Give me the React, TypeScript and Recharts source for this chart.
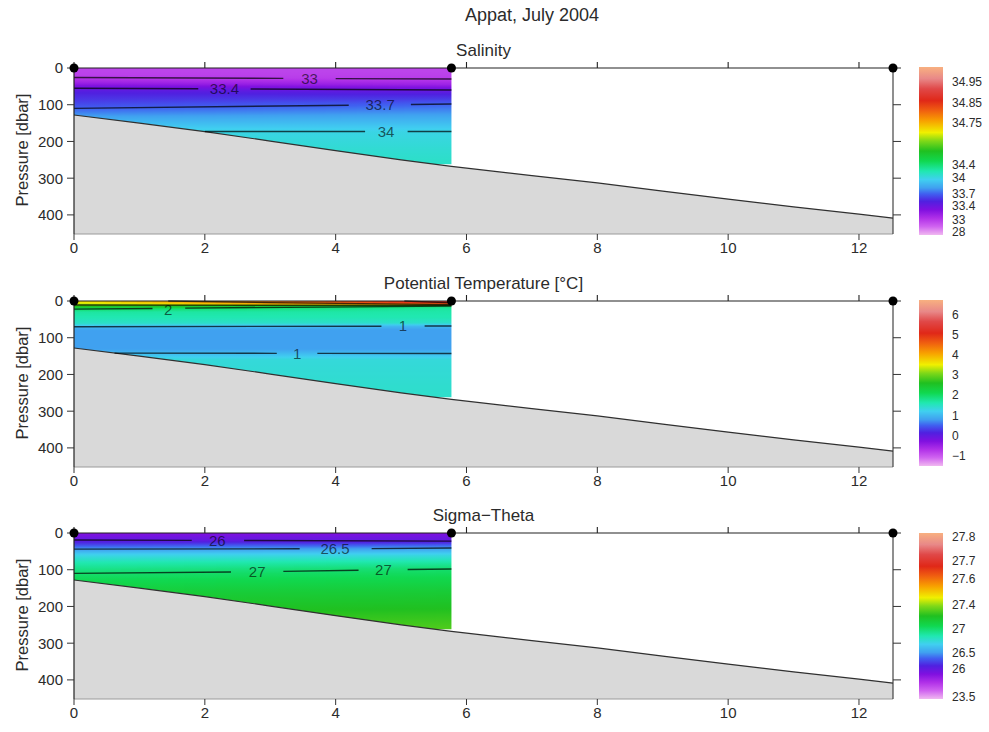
import React from 'react';
import {
  ComposedChart,
  Area,
  Line,
  Scatter,
  XAxis,
  YAxis,
  ReferenceDot,
  BarChart,
  Bar,
} from 'recharts';

const FONT = '"Liberation Sans", Arial, Helvetica, sans-serif';
const INK = '#2b2b2b';

// section geometry: distance along the track and pressure [dbar]
const X_MAX = 12.52;
const P_MAX = 452;
const FIELD_BOTTOM = 262;
const DIST_TICKS = [0, 2, 4, 6, 8, 10, 12];
const PRES_TICKS = [0, 100, 200, 300, 400];
const STATION_X = [0, 5.77, 12.52];
const CTD_X = [0, 5.77];

// bottom depth along the section
const BOTTOM_X = [0, 1, 2, 3, 4, 5, 5.77, 6.5, 7, 8, 9, 10, 11, 12, 12.52];
const BOTTOM_P = [128, 150, 173, 199, 225, 250, 268, 283, 293, 313, 335, 357, 378, 398, 409];

// rainbow palette used by all three colour bars (0 = bottom, 1 = top)
const RAINBOW_POS = [0, 0.05, 0.1, 0.15, 0.2, 0.245, 0.28, 0.33, 0.38, 0.44, 0.5, 0.56, 0.61, 0.68, 0.74, 0.8, 0.87, 0.93, 1];
const RAINBOW_HEX = [
  '#f0b8f0', '#d064f0', '#b030e8', '#8010e0', '#5020e0', '#4060f0', '#40a0f0', '#40d0f0', '#20e8b0',
  '#10d850', '#20c020', '#80d818', '#f0f000', '#f8a000', '#f06010', '#e02818', '#e04848', '#e88888', '#f8b080',
];

// salinity
const SAL_WEST_P = [0, 18, 26, 40, 55, 65, 90, 110, 140, 173, 220, 262];
const SAL_WEST_V = [32.3, 32.6, 33.0, 33.15, 33.4, 33.5, 33.6, 33.7, 33.86, 34.0, 34.07, 34.12];
const SAL_EAST_P = [0, 18, 30, 45, 60, 70, 85, 98, 140, 173, 220, 262];
const SAL_EAST_V = [32.3, 32.6, 33.0, 33.15, 33.4, 33.5, 33.6, 33.7, 33.87, 34.0, 34.07, 34.12];
const SAL_CB_VALUES = [28, 33, 33.4, 33.7, 34, 34.4, 34.75, 34.85, 34.95];
const SAL_CB_POS = [0.018, 0.089, 0.173, 0.244, 0.339, 0.417, 0.667, 0.786, 0.91];
const SAL_CB_LABELS = ['28', '33', '33.4', '33.7', '34', '34.4', '34.75', '34.85', '34.95'];

// potential temperature
const TEMP_WEST_P = [0, 5, 8, 11, 16, 22, 30, 45, 62, 70, 80, 130, 142, 160, 262];
const TEMP_WEST_V = [3.6, 3.5, 3.3, 3.0, 2.5, 2.0, 1.7, 1.6, 1.45, 1.0, 0.8, 0.8, 1.0, 1.35, 1.45];
const TEMP_EAST_P = [0, 5, 8, 10, 12, 14, 20, 30, 45, 60, 68, 78, 130, 142, 160, 262];
const TEMP_EAST_V = [5.3, 5.1, 4.6, 4.0, 3.0, 2.0, 1.7, 1.65, 1.6, 1.45, 1.0, 0.8, 0.8, 1.0, 1.35, 1.45];
const TEMP_CB_VALUES = [-1, 0, 1, 2, 3, 4, 5, 6];
const TEMP_CB_POS = [0.061, 0.183, 0.305, 0.427, 0.549, 0.671, 0.793, 0.909];
const TEMP_CB_LABELS = ['\u22121', '0', '1', '2', '3', '4', '5', '6'];

// sigma-theta
const SIG_WEST_P = [0, 8, 19, 30, 44, 60, 80, 110, 160, 220, 262];
const SIG_WEST_V = [25.5, 25.7, 26.0, 26.2, 26.5, 26.7, 26.85, 27.0, 27.12, 27.22, 27.28];
const SIG_EAST_P = [0, 8, 22, 30, 41, 60, 80, 98, 160, 220, 262];
const SIG_EAST_V = [25.55, 25.75, 26.0, 26.25, 26.5, 26.72, 26.88, 27.0, 27.14, 27.24, 27.3];
const SIG_CB_VALUES = [23.5, 26, 26.5, 27, 27.4, 27.6, 27.7, 27.8];
const SIG_CB_POS = [0.012, 0.181, 0.277, 0.422, 0.566, 0.723, 0.831, 0.976];
const SIG_CB_LABELS = ['23.5', '26', '26.5', '27', '27.4', '27.6', '27.7', '27.8'];

// contour lines: segments of [x, p] points, tags = label positions
type Contour = { level: string; segs: number[][][]; tags: number[][] };

const SAL_CONTOURS: Contour[] = [
  { level: '33', segs: [[[0, 26], [3.2, 28.2]], [[4.0, 28.8], [5.77, 30]]], tags: [[3.6, 28.5]] },
  { level: '33.4', segs: [[[0, 55], [1.9, 56.6]], [[2.7, 57.3], [5.77, 60]]], tags: [[2.3, 57]] },
  { level: '33.7', segs: [[[0, 110], [4.2, 101.3]], [[5.15, 99.3], [5.77, 98]]], tags: [[4.68, 100.3]] },
  { level: '34', segs: [[[2.0, 173], [4.45, 173]], [[5.1, 173], [5.77, 173]]], tags: [[4.77, 173]] },
];

const TEMP_CONTOURS: Contour[] = [
  { level: '5', segs: [[[5.05, 0], [5.77, 5]]], tags: [] },
  { level: '4', segs: [[[1.44, 0], [3, 4.5], [5.77, 10]]], tags: [] },
  { level: '3', segs: [[[0, 11], [5.77, 12]]], tags: [] },
  { level: '2', segs: [[[0, 22], [1.2, 20.3]], [[1.7, 19.3], [5.77, 14]]], tags: [[1.44, 24]] },
  { level: '1', segs: [[[0, 70], [4.7, 68.6]], [[5.36, 68.2], [5.77, 68]]], tags: [[5.03, 68.4]] },
  { level: '1', segs: [[[0.62, 142], [3.1, 142.5]], [[3.72, 142.6], [5.77, 143]]], tags: [[3.41, 143]] },
];

const SIG_CONTOURS: Contour[] = [
  { level: '26', segs: [[[0, 19], [1.8, 20]], [[2.6, 20.5], [5.77, 22]]], tags: [[2.19, 22]] },
  { level: '26.5', segs: [[[0, 44], [3.45, 43]], [[4.55, 42.5], [5.77, 41]]], tags: [[3.99, 42.7]] },
  {
    level: '27',
    segs: [[[0, 110], [2.4, 106]], [[3.2, 104.5], [4.35, 101.5]], [[5.1, 99.5], [5.77, 98]]],
    tags: [[2.8, 105.3], [4.73, 100.5]],
  },
];

const interp = (x: number, xs: number[], ys: number[], extrapolate = false) => {
  const n = xs.length;
  let i = 0;
  if (x <= xs[0]) {
    if (!extrapolate) return ys[0];
    i = 0;
  } else if (x >= xs[n - 1]) {
    if (!extrapolate) return ys[n - 1];
    i = n - 2;
  } else {
    while (i < n - 2 && x > xs[i + 1]) i++;
  }
  const f = (x - xs[i]) / (xs[i + 1] - xs[i]);
  return ys[i] + (ys[i + 1] - ys[i]) * f;
};

const rgb = (h: string) => [1, 3, 5].map((i) => parseInt(h.slice(i, i + 2), 16));

const rainbow = (t: number) => {
  const u = Math.min(1, Math.max(0, t));
  let i = 0;
  while (i < RAINBOW_POS.length - 2 && u > RAINBOW_POS[i + 1]) i++;
  const f = (u - RAINBOW_POS[i]) / (RAINBOW_POS[i + 1] - RAINBOW_POS[i]);
  const a = rgb(RAINBOW_HEX[i]);
  const b = rgb(RAINBOW_HEX[i + 1]);
  return `rgb(${a.map((c, k) => Math.round(c + (b[k] - c) * f)).join(',')})`;
};

type Field = {
  westP: number[];
  westV: number[];
  eastP: number[];
  eastV: number[];
  cbValues: number[];
  cbPos: number[];
};

const STRIPS = 24;

// the field between the two CTD stations, drawn as narrow columns with vertical gradients
const fieldStrips = (fd: Field) => {
  const x0 = CTD_X[0];
  const x1 = CTD_X[1];
  const out: { a: number; b: number; stops: { o: number; c: string }[] }[] = [];
  for (let i = 0; i < STRIPS; i++) {
    const f = (i + 0.5) / STRIPS;
    const stops: { o: number; c: string }[] = [];
    const levels: number[] = [];
    for (let p = 0; p < FIELD_BOTTOM; p += 3) levels.push(p);
    levels.push(FIELD_BOTTOM);
    levels.forEach((p) => {
      const v = (1 - f) * interp(p, fd.westP, fd.westV) + f * interp(p, fd.eastP, fd.eastV);
      const t = interp(v, fd.cbValues, fd.cbPos, true);
      stops.push({ o: p / FIELD_BOTTOM, c: rainbow(t) });
    });
    const a = x0 + ((x1 - x0) * i) / STRIPS;
    const b = x0 + ((x1 - x0) * (i + 1)) / STRIPS + (i < STRIPS - 1 ? 0.03 : 0);
    out.push({ a, b, stops });
  }
  return out;
};

const contourData = (c: Contour) => {
  const rows: { x: number; p: number | null }[] = [];
  c.segs.forEach((seg, k) => {
    if (k > 0) rows.push({ x: (seg[0][0] + rows[rows.length - 1].x) / 2, p: null });
    seg.forEach(([x, p]) => rows.push({ x, p }));
  });
  return rows;
};

const bottomData = BOTTOM_X.map((x, i) => ({ x, p: BOTTOM_P[i] }));
const stationData = STATION_X.map((x) => ({ x, p: 0 }));

const tickStyle = { fill: INK, fontSize: 15, fontFamily: FONT };
const noLabel = () => '';

type PanelProps = {
  id: string;
  plotTop: number;
  title: string;
  field: Field;
  contours: Contour[];
};

const Panel = ({ id, plotTop, title, field, contours }: PanelProps) => {
  const strips = fieldStrips(field);
  return (
    <>
      <div
        style={{
          position: 'absolute', left: 483.5, top: plotTop - 17, transform: 'translate(-50%, -50%)',
          fontFamily: FONT, fontSize: 17, color: INK, whiteSpace: 'nowrap',
        }}
      >
        {title}
      </div>
      <div
        style={{
          position: 'absolute', left: 22, top: plotTop + 82, transform: 'translate(-50%, -50%) rotate(-90deg)',
          fontFamily: FONT, fontSize: 16.5, color: INK, whiteSpace: 'nowrap',
        }}
      >
        Pressure [dbar]
      </div>
      <div style={{ position: 'absolute', left: 0, top: plotTop - 20 }}>
        <ComposedChart width={905} height={220} margin={{ top: 10, right: 2, bottom: 4, left: 34 }}>
          <defs>
            {strips.map((s, i) => (
              <linearGradient key={i} id={`${id}-s${i}`} x1="0" y1="0" x2="0" y2="1">
                {s.stops.map((st, k) => (
                  <stop key={k} offset={st.o} stopColor={st.c} />
                ))}
              </linearGradient>
            ))}
          </defs>
          <XAxis
            xAxisId="b" type="number" dataKey="x" domain={[0, X_MAX]} ticks={DIST_TICKS} interval={0}
            height={30} tickSize={6} tickMargin={2} axisLine={{ stroke: '#9a9a9a' }}
            tickLine={{ stroke: '#333' }} tick={tickStyle}
          />
          <XAxis
            xAxisId="t" orientation="top" type="number" dataKey="x" domain={[0, X_MAX]} ticks={DIST_TICKS}
            interval={0} height={10} tickSize={6} tickFormatter={noLabel}
            axisLine={{ stroke: '#222', strokeWidth: 1.2 }} tickLine={{ stroke: '#222', strokeWidth: 1.1 }}
          />
          <YAxis
            yAxisId="l" type="number" dataKey="p" domain={[0, P_MAX]} reversed ticks={PRES_TICKS} interval={0}
            width={40} tickSize={7} tickMargin={4} axisLine={{ stroke: '#222', strokeWidth: 1.2 }}
            tickLine={{ stroke: '#333' }} tick={tickStyle}
          />
          <YAxis
            yAxisId="r" orientation="right" type="number" dataKey="p" domain={[0, P_MAX]} reversed
            ticks={PRES_TICKS} interval={0} width={10} tickSize={8} tickFormatter={noLabel}
            axisLine={{ stroke: '#333', strokeWidth: 1.1 }} tickLine={{ stroke: '#333' }}
          />
          {strips.map((s, i) => (
            <Area
              key={`f${i}`} xAxisId="b" yAxisId="l" type="linear"
              data={[{ x: s.a, p: FIELD_BOTTOM }, { x: s.b, p: FIELD_BOTTOM }]}
              dataKey="p" baseValue={0} stroke="none" fill={`url(#${id}-s${i})`} fillOpacity={1}
              isAnimationActive={false}
            />
          ))}
          {contours.map((c, i) => (
            <Line
              key={`c${i}`} xAxisId="b" yAxisId="l" type="linear" data={contourData(c)} dataKey="p"
              stroke="rgba(0,0,0,0.7)" strokeWidth={1.4} dot={false} activeDot={false}
              connectNulls={false} isAnimationActive={false}
            />
          ))}
          <Area
            xAxisId="b" yAxisId="l" type="linear" data={bottomData} dataKey="p" baseValue={P_MAX}
            fill="#d9d9d9" fillOpacity={1} stroke="#303030" strokeWidth={1.2} isAnimationActive={false}
          />
          {contours.flatMap((c, i) =>
            c.tags.map(([x, p], k) => (
              <ReferenceDot
                key={`t${i}-${k}`} xAxisId="b" yAxisId="l" x={x} y={p} r={0} fill="none" stroke="none"
                label={{ value: c.level, position: 'center', fill: 'rgba(0,0,0,0.62)', fontSize: 15, fontFamily: FONT }}
              />
            ))
          )}
          {/* station markers sit on the top / right frame axes */}
          <Scatter
            xAxisId="t" yAxisId="r" data={stationData} dataKey="p" isAnimationActive={false}
            shape={(pr: any) => <circle cx={pr.cx} cy={pr.cy} r={4.5} fill="#000" />}
          />
        </ComposedChart>
      </div>
    </>
  );
};

type ColorBarProps = { id: string; top: number; height: number; positions: number[]; labels: string[] };

const CB_PAD = 9;

const ColorBar = ({ id, top, height, positions, labels }: ColorBarProps) => (
  <div style={{ position: 'absolute', left: 919, top: top - CB_PAD }}>
    <BarChart
      width={70} height={height + 2 * CB_PAD} data={[{ name: 'cb', span: 1 }]}
      margin={{ top: CB_PAD, right: 0, bottom: CB_PAD, left: 0 }} barCategoryGap={0}
    >
      <defs>
        <linearGradient id={id} x1="0" y1="0" x2="0" y2="1">
          {RAINBOW_POS.map((t, i) => ({ t, c: RAINBOW_HEX[i] }))
            .reverse()
            .map((s, k) => (
              <stop key={k} offset={1 - s.t} stopColor={s.c} />
            ))}
        </linearGradient>
      </defs>
      <XAxis dataKey="name" hide />
      <YAxis
        type="number" orientation="right" domain={[0, 1]} ticks={positions} interval={0} width={46}
        axisLine={false} tickLine={false} tickMargin={3}
        tickFormatter={(v: number) => labels[positions.indexOf(v)] ?? ''}
        tick={{ fill: INK, fontSize: 12, fontFamily: FONT }}
      />
      <Bar dataKey="span" fill={`url(#${id})`} isAnimationActive={false} />
    </BarChart>
  </div>
);

const salinity: Field = {
  westP: SAL_WEST_P, westV: SAL_WEST_V, eastP: SAL_EAST_P, eastV: SAL_EAST_V,
  cbValues: SAL_CB_VALUES, cbPos: SAL_CB_POS,
};
const temperature: Field = {
  westP: TEMP_WEST_P, westV: TEMP_WEST_V, eastP: TEMP_EAST_P, eastV: TEMP_EAST_V,
  cbValues: TEMP_CB_VALUES, cbPos: TEMP_CB_POS,
};
const sigma: Field = {
  westP: SIG_WEST_P, westV: SIG_WEST_V, eastP: SIG_EAST_P, eastV: SIG_EAST_V,
  cbValues: SIG_CB_VALUES, cbPos: SIG_CB_POS,
};

export default function App() {
  return (
    <div style={{ position: 'absolute', left: 0, top: 0, width: 989, height: 732, background: '#fff', overflow: 'hidden' }}>
      <div
        style={{
          position: 'absolute', left: 532, top: 15, transform: 'translate(-50%, -50%)',
          fontFamily: FONT, fontSize: 18, color: INK, whiteSpace: 'nowrap',
        }}
      >
        Appat, July 2004
      </div>
      <Panel id="sal" plotTop={68} title="Salinity" field={salinity} contours={SAL_CONTOURS} />
      <Panel id="tmp" plotTop={301} title={'Potential Temperature [\u00b0C]'} field={temperature} contours={TEMP_CONTOURS} />
      <Panel id="sig" plotTop={533} title={'Sigma\u2212Theta'} field={sigma} contours={SIG_CONTOURS} />
      <ColorBar id="cb-sal" top={67} height={168} positions={SAL_CB_POS} labels={SAL_CB_LABELS} />
      <ColorBar id="cb-tmp" top={300} height={166} positions={TEMP_CB_POS} labels={TEMP_CB_LABELS} />
      <ColorBar id="cb-sig" top={533} height={166} positions={SIG_CB_POS} labels={SIG_CB_LABELS} />
    </div>
  );
}
